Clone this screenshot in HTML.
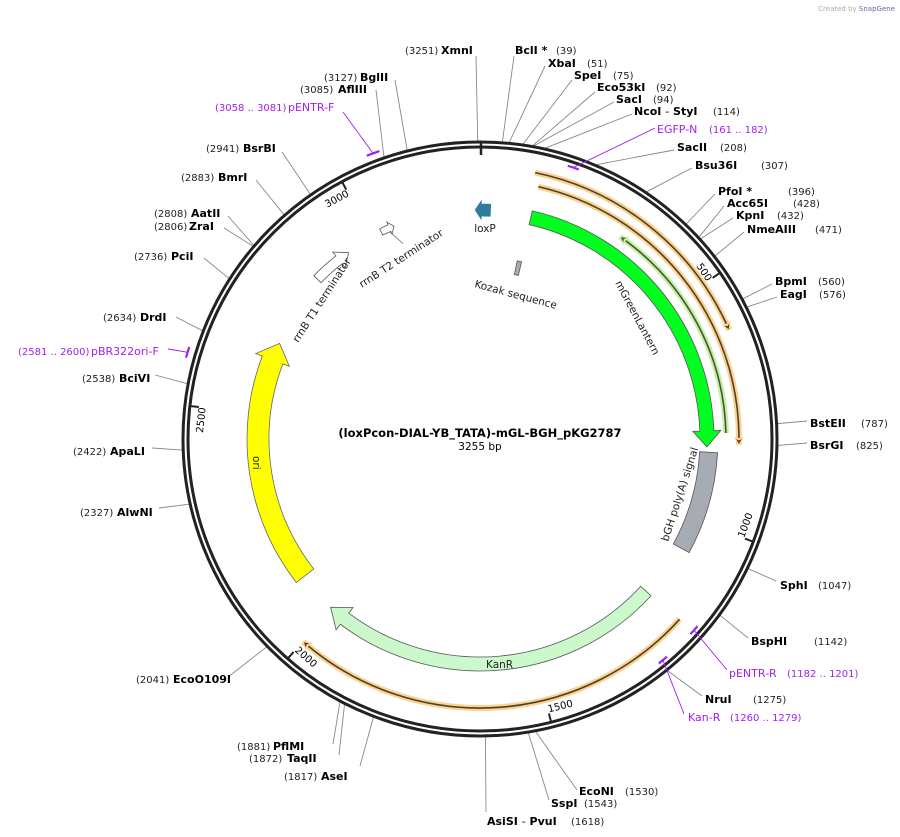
<!DOCTYPE html>
<html><head><meta charset="utf-8"><style>
html,body{margin:0;padding:0;background:#fff;}
svg{display:block;font-family:"DejaVu Sans","Liberation Sans",sans-serif;}
</style></head><body>
<svg id="s" width="900" height="837" viewBox="0 0 900 837" xmlns="http://www.w3.org/2000/svg" style="position:absolute;left:0;top:0">
<text x="895" y="11" text-anchor="end" style="font-size:7px;fill:#aaa">Created by <tspan fill="#66a">SnapGene</tspan></text>
<g id="g"></g>
<text x="480" y="437" text-anchor="middle" style="font-weight:bold;font-size:11.5px">(loxPcon-DIAL-YB_TATA)-mGL-BGH_pKG2787</text>
<text x="480" y="450" text-anchor="middle" style="font-size:10.5px">3255 bp</text>
</svg>
<script>
var CX=480,CY=439,N=3255,ns="http://www.w3.org/2000/svg",G=document.getElementById('g');
function P(r,a){var t=a*Math.PI/180;return [CX+r*Math.sin(t),CY-r*Math.cos(t)];}
function A(p){return p/N*360;}
function el(tag,at,txt){var e=document.createElementNS(ns,tag);for(var k in at)e.setAttribute(k,at[k]);if(txt!=null)e.textContent=txt;G.appendChild(e);return e;}
function arcD(r,a1,a2){var s=P(r,a1),e=P(r,a2),l=Math.abs(a2-a1)>180?1:0,sw=a2>a1?1:0;return "M"+s[0]+","+s[1]+" A"+r+","+r+" 0 "+l+","+sw+" "+e[0]+","+e[1];}
function arrow(r1,r2,a1,a2,hl,hw,fill,stroke){
 var rm=(r1+r2)/2,dir=a2>a1?1:-1,hd=hl/rm*180/Math.PI,ab=a2-dir*hd;
 var s1=P(r2,a1),e1=P(r2,ab),h1=P(r2+hw,ab),t=P(rm,a2),h2=P(r1-hw,ab),e2=P(r1,ab),s2=P(r1,a1);
 var l=Math.abs(ab-a1)>180?1:0,sw=dir>0?1:0;
 var d="M"+s1+" A"+r2+","+r2+" 0 "+l+","+sw+" "+e1+" L"+h1+" L"+t+" L"+h2+" L"+e2+" A"+r1+","+r1+" 0 "+l+","+(1-sw)+" "+s2+" Z";
 el('path',{d:d,fill:fill,stroke:stroke||'#555','stroke-width':0.8});
}
function band(r1,r2,a1,a2,fill){var s1=P(r2,a1),e1=P(r2,a2),e2=P(r1,a2),s2=P(r1,a1);
 el('path',{d:"M"+s1+" A"+r2+","+r2+" 0 0,1 "+e1+" L"+e2+" A"+r1+","+r1+" 0 0,0 "+s2+" Z",fill:fill,stroke:'#555','stroke-width':0.8});}
function primer(r,a1,a2,glow,line){
 el('path',{d:arcD(r,a1,a2),fill:'none',stroke:glow,'stroke-width':6});
 var dir=a2>a1?1:-1,hd=7/r*180/Math.PI,ab=a2-dir*hd;
 el('path',{d:arcD(r,a1,ab),fill:'none',stroke:line,'stroke-width':1.6});
 var t=P(r,a2),h1=P(r+4,ab),h2=P(r-4,ab),m=P(r,ab+dir*hd*0.3);
 el('path',{d:"M"+h1+" L"+t+" L"+h2+" L"+m+"Z",fill:line,stroke:glow,'stroke-width':1});
}
var L=[[3251,476,56],[39,514,56],[51,545,66],[75,572,80],[92,595,92],[94,614,102],[114,632,114],[208,674,150],[307,692,168],[396,715,194],[428,724,206],[432,733,218],[471,744,232],[560,772,284],[576,777,297],[787,807,421],[825,807,443],[1047,776,581],[1142,748,638],[1275,702,696],[1530,577,790],[1543,549,800],[1618,486,812],[1817,360,766],[1872,339,755],[1881,333,744],[2041,228,677],[2327,159,508],[2422,152,448],[2538,155,375],[2634,176,317],[2736,204,258],[2806,224,228],[2808,228,216],[2883,256,180],[2941,282,152],[3085,376,90],[3127,395,80]];
L.forEach(function(x){var a=A(x[0]),s=P(298,a);el('line',{x1:s[0],y1:s[1],x2:x[1],y2:x[2],stroke:'#888','stroke-width':0.9});});
function pm(p1,p2,r,lx,ly){var a1=A(p1),a2=A(p2);el('path',{d:arcD(r,a1,a2),fill:'none',stroke:'#a020f0','stroke-width':2.2});var m=P(r,(a1+a2)/2);el('polyline',{points:m+" "+lx+","+ly,fill:'none',stroke:'#a020f0','stroke-width':0.9});}
el('circle',{cx:CX,cy:CY,r:297,fill:'none',stroke:'#222','stroke-width':3});
el('circle',{cx:CX,cy:CY,r:292,fill:'none',stroke:'#222','stroke-width':3});
pm(161,182,287,655,128);pm(3058,3081,305,343,112);pm(2581,2600,305,168,349);pm(1182,1201,287,727,670);pm(1260,1279,287,684,714);
el('line',{x1:481,y1:143,x2:481,y2:155,stroke:'#222','stroke-width':2.5});
[500,1000,1500,2000,2500,3000].forEach(function(p){var a=A(p),s=P(291,a),e=P(283,a);el('line',{x1:s[0],y1:s[1],x2:e[0],y2:e[1],stroke:'#222','stroke-width':2});
 var top=(a<90||a>270),rot=top?(a>270?a-360:a):a-180;
 var t=P(279,a);
 el('text',{x:t[0],y:t[1],'text-anchor':top?'end':'start','dominant-baseline':'middle',transform:'rotate('+rot+' '+t[0]+' '+t[1]+')',style:'font-size:10px'},String(p));});
primer(272,11.7,66.4,'#fdd28e','#4a4030');
primer(259,13,91.3,'#fdd28e','#4a4030');
primer(246,88.6,34.7,'#c4f2a0','#4a5040');
arrow(220,234,12.9,92,16,7,'#00ff1f','#555');
band(220,238,93.3,118.5,'#a7abb3');
primer(269,132.1,221.1,'#fdd28e','#4a4030');
arrow(218,232,132.5,221.6,18,7,'#ccf9cc','#555');
arrow(211,233,232,295.5,18,7,'#ffff00','#666');
arrow(223,233,314.5,324.8,12,5,'#fff','#555');
arrow(226,233,334.5,338,5,3,'#fff','#555');
arrow(223,235,2.6,-1.2,6,3,'#2e7c96','#2e7c96');
band(168,182,11.8,13.2,'#a7abb3');
var t2=P(226,336.5),t2b=P(210,338.5);el('line',{x1:t2[0],y1:t2[1],x2:t2b[0],y2:t2b[1],stroke:'#666','stroke-width':0.8});
</script>
<div style="position:absolute;left:0;top:0;width:900px;height:837px;">
<svg width="900" height="837" xmlns="http://www.w3.org/2000/svg" style="font-family:'DejaVu Sans','Liberation Sans',sans-serif">
<g font-size="10.5" fill="#222">
<text x="485" y="232" text-anchor="middle">loxP</text>
<text x="474" y="287" transform="rotate(15 474 287)">Kozak sequence</text>
<text x="615" y="283" transform="rotate(62 615 283)">mGreenLantern</text>
<text x="668" y="542" transform="rotate(-72 668 542)">bGH poly(A) signal</text>
<text x="253" y="456" transform="rotate(90 253 456)">ori</text>
<text x="486" y="668">KanR</text>
<text x="298" y="343" transform="rotate(-57 298 343)">rrnB T1 terminator</text>
<text x="362" y="288" transform="rotate(-33 362 288)">rrnB T2 terminator</text>
</g>
<g font-size="10" fill="#222">
<text x="405" y="54">(3251)</text><text x="556" y="54">(39)</text><text x="587" y="67">(51)</text><text x="613" y="79">(75)</text><text x="656" y="91">(92)</text><text x="653" y="103">(94)</text><text x="713" y="115">(114)</text><text x="720" y="151">(208)</text><text x="761" y="169">(307)</text><text x="788" y="195">(396)</text><text x="793" y="207">(428)</text><text x="777" y="219">(432)</text><text x="815" y="233">(471)</text><text x="818" y="285">(560)</text><text x="819" y="298">(576)</text><text x="861" y="427">(787)</text><text x="856" y="449">(825)</text><text x="818" y="589">(1047)</text><text x="814" y="645">(1142)</text><text x="753" y="703">(1275)</text><text x="625" y="795">(1530)</text><text x="584" y="807">(1543)</text><text x="571" y="825">(1618)</text>
<text x="284" y="780">(1817)</text><text x="249" y="762">(1872)</text><text x="237" y="750">(1881)</text><text x="136" y="683">(2041)</text><text x="80" y="516">(2327)</text><text x="73" y="455">(2422)</text><text x="82" y="382">(2538)</text><text x="103" y="321">(2634)</text><text x="134" y="260">(2736)</text><text x="154" y="230">(2806)</text><text x="154" y="217">(2808)</text><text x="181" y="181">(2883)</text><text x="206" y="152">(2941)</text><text x="300" y="93">(3085)</text><text x="324" y="81">(3127)</text>
</g>
<g font-size="11" font-weight="bold" fill="#000">
<text x="441" y="54">XmnI</text><text x="515" y="54">BclI *</text><text x="548" y="67">XbaI</text><text x="574" y="79">SpeI</text><text x="597" y="91">Eco53kI</text><text x="616" y="103">SacI</text><text x="634" y="115">NcoI  <tspan font-weight="normal">-</tspan> StyI</text><text x="677" y="151">SacII</text><text x="695" y="169">Bsu36I</text><text x="718" y="195">PfoI *</text><text x="727" y="207">Acc65I</text><text x="736" y="219">KpnI</text><text x="747" y="233">NmeAIII</text><text x="775" y="285">BpmI</text><text x="780" y="298">EagI</text><text x="810" y="427">BstEII</text><text x="810" y="449">BsrGI</text><text x="780" y="589">SphI</text><text x="751" y="645">BspHI</text><text x="705" y="703">NruI</text><text x="579" y="795">EcoNI</text><text x="551" y="807">SspI</text><text x="487" y="825">AsiSI  <tspan font-weight="normal">-</tspan> PvuI</text>
<text x="321" y="780">AseI</text><text x="287" y="762">TaqII</text><text x="273" y="750">PflMI</text><text x="173" y="683">EcoO109I</text><text x="117" y="516">AlwNI</text><text x="110" y="455">ApaLI</text><text x="119" y="382">BciVI</text><text x="140" y="321">DrdI</text><text x="171" y="260">PciI</text><text x="189" y="230">ZraI</text><text x="191" y="217">AatII</text><text x="218" y="181">BmrI</text><text x="243" y="152">BsrBI</text><text x="338" y="93">AflIII</text><text x="360" y="81">BglII</text>
</g>
<g fill="#a020f0">
<text x="657" y="133" font-size="11">EGFP-N</text><text x="709" y="133" font-size="10">(161 .. 182)</text>
<text x="288" y="111" font-size="11">pENTR-F</text><text x="215" y="111" font-size="10">(3058 .. 3081)</text>
<text x="91" y="355" font-size="11">pBR322ori-F</text><text x="18" y="355" font-size="10">(2581 .. 2600)</text>
<text x="729" y="677" font-size="11">pENTR-R</text><text x="787" y="677" font-size="10">(1182 .. 1201)</text>
<text x="688" y="721" font-size="11">Kan-R</text><text x="730" y="721" font-size="10">(1260 .. 1279)</text>
</g>
</svg></div>
</body></html>
